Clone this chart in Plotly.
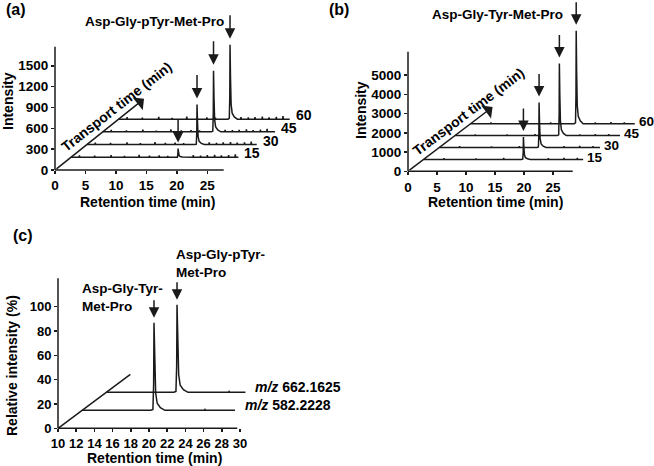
import plotly.graph_objects as go

W, H = 654, 466

# ---------------- data ----------------
transport_times = [15, 30, 45, 60]
transport_labels = ["15", "30", "45", "60"]

# panel (a) Asp-Gly-pTyr-Met-Pro
a_peak_rt = [17.6, 18.1, 18.2, 18.3]
a_peak_height = [125, 575, 880, 1070]
a_run_end = [27.5, 27.9, 28.3, 28.1]
a_noise_rt = [1.4, 3.9, 6.6, 8.8, 11.2, 12.9, 14.5, 15.9, 20.1, 21.3, 22.4, 23.6, 24.7, 25.9, 27.0]
a_noise_height = [28, 22, 32, 18, 36, 22, 26, 20, 30, 24, 30, 36, 26, 32, 42]
a_xticks = [0, 5, 10, 15, 20, 25]
a_yticks = [0, 300, 600, 900, 1200, 1500]

# panel (b) Asp-Gly-Tyr-Met-Pro
b_peak_rt = [17.2, 17.2, 18.0, 18.2]
b_peak_height = [1160, 2340, 3740, 4820]
b_run_end = [27.5, 27.7, 28.45, 28.3]
b_noise_rt = [3.5, 9.0, 13.8, 21.5, 24.2, 26.5]
b_noise_height = [60, 50, 70, 60, 80, 70]
b_xticks = [0, 5, 10, 15, 20, 25]
b_yticks = [0, 1000, 2000, 3000, 4000, 5000]

# panel (c) extracted ion chromatograms
c_mz = ["582.2228", "662.1625"]
c_level = [1, 2]
c_peak_rt = [17.9, 17.78]
c_peak_height = [72, 72]
c_run_end = [26.8, 25.3]
c_noise_rt = [16.5, 18.2, 23.5]
c_noise_height = [0.8, 0.6, 0.7]
c_xticks = [10, 12, 14, 16, 18, 20, 22, 24, 26, 28, 30]
c_yticks = [0, 20, 40, 60, 80, 100]

# chromatographic peak profile (time from apex, fraction of apex height)
peak_dt = [-0.35, -0.12, -0.04, 0.0, 0.08, 0.18, 0.35, 0.7, 1.2]
peak_frac = [0.0, 0.01, 0.3, 1.0, 0.55, 0.2, 0.08, 0.03, 0.0]

# ---------------- layout constants ----------------
FONT = "Liberation Sans, Arial, sans-serif"
INK = "#1a1a1a"

panels = {
    "a": dict(ox=55, oy=170, x0=0, kx=6.09, ky=0.0695, right=300, top=4,
              xend=27.7, yend=1774, dx=0.174, dy=12.2, tmax=84, tick=13.5,
              xref="x", yref="y", xa="xaxis", ya="yaxis"),
    "b": dict(ox=408, oy=171.3, x0=0, kx=5.8, ky=0.01926, right=654, top=0,
              xend=28.4, yend=6210, dx=0.18, dy=41.2, tmax=81, tick=13.5,
              xref="x2", yref="y2", xa="xaxis2", ya="yaxis2"),
    "c": dict(ox=58, oy=428.3, x0=10, kx=9.1, ky=1.216, right=654, top=240,
              xend=29.7, yend=123.4, dx=2.65, dy=14.8, tmax=3, tick=13,
              xref="x3", yref="y3", xa="xaxis3", ya="yaxis3"),
}


def to_paper(P, xv, yv):
    px = P["ox"] + (xv - P["x0"]) * P["kx"]
    py = P["oy"] - yv * P["ky"]
    return px / W, 1 - py / H


def build_trace(start, end, prt, ph, nrt, nh, xoff, yoff):
    pts = [(start, 0.0), (end, 0.0)]
    for d, f in zip(peak_dt, peak_frac):
        pts.append((prt + d, ph * f))
    for r, h in zip(nrt, nh):
        if start < r < end and abs(r - prt) > 1.4:
            pts += [(r - 0.06, 0.0), (r, h), (r + 0.06, 0.0)]
    pts.sort(key=lambda p: p[0])
    return [p[0] + xoff for p in pts], [p[1] + yoff for p in pts]


def bfont(size):
    return dict(family=FONT, size=size, color="black", weight="bold")


fig = go.Figure()
ann = []
shapes = []


def add_panel(key, keys, prts, phs, ends, nrt, nh, start, labels, label_fmt,
              label_shift, arrow_ay, arrow_standoff, diag_head, label_size):
    P = panels[key]
    for k, prt, ph, end, lab in zip(keys, prts, phs, ends, labels):
        xoff, yoff = k * P["dx"], k * P["dy"]
        xs, ys = build_trace(start, end, prt, ph, nrt, nh, xoff, yoff)
        fig.add_trace(go.Scatter(x=xs, y=ys, mode="lines",
                                 line=dict(color=INK, width=1.5),
                                 xaxis=P["xref"], yaxis=P["yref"],
                                 hoverinfo="skip", showlegend=False))
        # peak arrow
        ann.append(dict(x=prt + xoff, y=ph + yoff, xref=P["xref"], yref=P["yref"],
                        text="", showarrow=True, ax=0, ay=arrow_ay,
                        arrowhead=2, arrowsize=1.4, arrowwidth=1.5,
                        arrowcolor=INK, standoff=arrow_standoff))
        # trace label
        ann.append(dict(x=end + xoff, y=yoff, xref=P["xref"], yref=P["yref"],
                        text=label_fmt(lab), showarrow=False, xanchor="left",
                        yanchor="middle", xshift=label_shift[0],
                        yshift=label_shift[1], font=bfont(label_size)))
    # depth (transport) axis
    tx, ty = P["x0"] + P["tmax"] * P["dx"], P["tmax"] * P["dy"]
    if diag_head:
        ann.append(dict(x=tx, y=ty, xref=P["xref"], yref=P["yref"],
                        ax=P["x0"], ay=0, axref=P["xref"], ayref=P["yref"],
                        text="", showarrow=True, arrowhead=1, arrowsize=1.8,
                        arrowwidth=1.5, arrowcolor=INK))
    else:
        x0p, y0p = to_paper(P, P["x0"], 0)
        x1p, y1p = to_paper(P, tx, ty)
        shapes.append(dict(type="line", xref="paper", yref="paper",
                           x0=x0p, y0=y0p, x1=x1p, y1=y1p,
                           line=dict(color=INK, width=1.5)))
    # axis lines
    ox, oy = to_paper(P, P["x0"], 0)
    ex, _ = to_paper(P, P["xend"], 0)
    _, ey = to_paper(P, P["x0"], P["yend"])
    shapes.append(dict(type="line", xref="paper", yref="paper", x0=ox, y0=oy,
                       x1=ex, y1=oy, line=dict(color=INK, width=1.5)))
    shapes.append(dict(type="line", xref="paper", yref="paper", x0=ox, y0=oy,
                       x1=ox, y1=ey, line=dict(color=INK, width=1.5)))


add_panel("a", transport_times, a_peak_rt, a_peak_height,
          a_run_end, a_noise_rt, a_noise_height, 0, transport_labels,
          lambda s: s, (4, 4), -31, 6, True, 14)
add_panel("b", transport_times, b_peak_rt, b_peak_height,
          b_run_end, b_noise_rt, b_noise_height, 0, transport_labels,
          lambda s: s, (2, 2), -30, 6, True, 13.5)
add_panel("c", c_level, c_peak_rt, c_peak_height, c_run_end, c_noise_rt,
          c_noise_height, 10, c_mz, lambda s: "<i>m/z</i> " + s, (8, 5), -24, 5,
          False, 14)


def axis_pair(key, xticks, yticks):
    P = panels[key]
    xd0, yd0 = P["ox"] / W, 1 - P["oy"] / H
    xd1, yd1 = P["right"] / W, 1 - P["top"] / H
    xr = [P["x0"], P["x0"] + (P["right"] - P["ox"]) / P["kx"]]
    yr = [0, (P["oy"] - P["top"]) / P["ky"]]
    common = dict(showgrid=False, zeroline=False, showline=False,
                  automargin=False, ticks="outside", ticklen=3, tickwidth=1.5,
                  tickcolor=INK, tickfont=bfont(P["tick"]), fixedrange=True)
    x_id = P["xref"]
    y_id = P["yref"]
    xa = dict(domain=[xd0, xd1], range=xr, tickmode="array", tickvals=xticks,
              ticktext=[str(v) for v in xticks], anchor=y_id, **common)
    ya = dict(domain=[yd0, yd1], range=yr, tickmode="array", tickvals=yticks,
              ticktext=[str(v) for v in yticks], anchor=x_id, **common)
    fig.update_layout(**{P["xa"]: xa, P["ya"]: ya})


axis_pair("a", a_xticks, a_yticks)
axis_pair("b", b_xticks, b_yticks)
axis_pair("c", c_xticks, c_yticks)


def text_px(x, y, s, size=14, angle=0, xanchor="center", align="center"):
    ann.append(dict(x=x / W, y=1 - y / H, xref="paper", yref="paper", text=s,
                    showarrow=False, xanchor=xanchor, yanchor="middle",
                    textangle=angle, align=align, font=bfont(size)))


# panel letters
text_px(16, 9, "(a)", size=16)
text_px(339, 9, "(b)", size=16)
text_px(23, 235, "(c)", size=16)
# compound titles
text_px(83, 22, "Asp-Gly-pTyr-Met-Pro", size=13.5, xanchor="left")
text_px(430, 14, "Asp-Gly-Tyr-Met-Pro", size=13.5, xanchor="left")
text_px(80, 297, "Asp-Gly-Tyr-<br>Met-Pro", size=13.5, xanchor="left", align="left")
text_px(174, 263, "Asp-Gly-pTyr-<br>Met-Pro", size=13.5, xanchor="left", align="left")
# axis titles
text_px(8, 101, "Intensity", angle=-90)
text_px(147, 202, "Retention time (min)")
text_px(361, 110, "Intensity", angle=-90)
text_px(495, 202, "Retention time (min)")
text_px(12, 366, "Relative intensity (%)", angle=-90)
text_px(154, 458, "Retention time (min)")
# depth axis titles
text_px(116, 107, "Transport time (min)", angle=-38)
text_px(468, 112, "Transport time (min)", angle=-37)

fig.update_layout(template="none", width=W, height=H, autosize=False,
                  margin=dict(l=0, r=0, t=0, b=0, pad=0),
                  paper_bgcolor="white", plot_bgcolor="rgba(0,0,0,0)",
                  font=dict(family=FONT, color="black"),
                  annotations=ann, shapes=shapes, showlegend=False)

fig.write_html("out.html", config={"displayModeBar": False, "staticPlot": True},
               post_script="document.body.style.margin='0px';"
                           "document.body.style.padding='0px';")
